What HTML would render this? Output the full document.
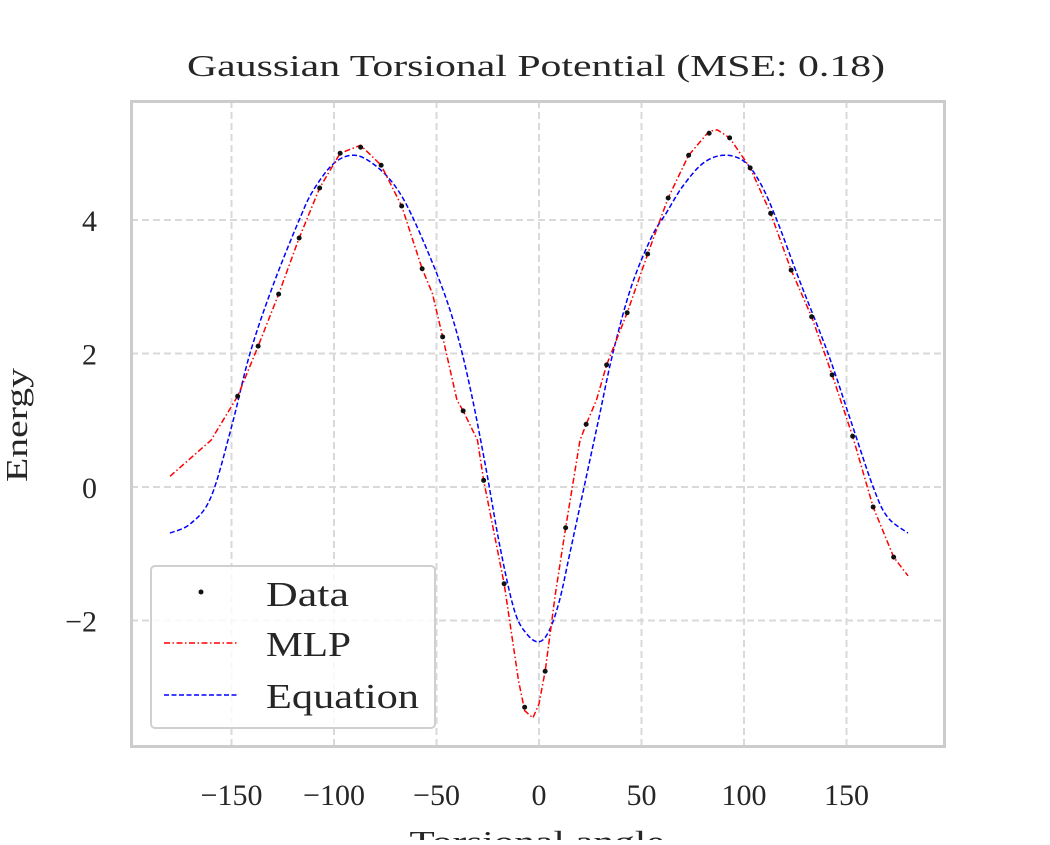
<!DOCTYPE html>
<html><head><meta charset="utf-8"><style>
body{margin:0;background:#fff;}
svg text{font-family:"Liberation Serif",serif;fill:#262626;}
</style></head><body>
<svg id="chart" width="1050" height="840" xmlns="http://www.w3.org/2000/svg">
<text x="536" y="76" font-size="31" textLength="698" lengthAdjust="spacingAndGlyphs" text-anchor="middle">Gaussian Torsional Potential (MSE: 0.18)</text>
<text transform="translate(27,425) rotate(-90)" font-size="31" textLength="114" lengthAdjust="spacingAndGlyphs" text-anchor="middle">Energy</text>
<text x="537" y="852" font-size="31" textLength="255" lengthAdjust="spacingAndGlyphs" text-anchor="middle">Torsional angle</text>
<g id="grid"></g><g id="series"></g><g id="ticks"></g>
<rect x="131.5" y="101.5" width="813" height="645" fill="none" stroke="#cccccc" stroke-width="3"/>
<g>
<rect x="151" y="566" width="284" height="162" rx="4" fill="#fff" fill-opacity="0.8" stroke="#d0d0d0" stroke-width="2"/>
<circle cx="201" cy="592" r="2.5" fill="#111"/>
<text x="266" y="606" font-size="35" textLength="83" lengthAdjust="spacingAndGlyphs">Data</text>
<line x1="164" y1="643" x2="238" y2="643" stroke="#f00" stroke-width="1.5" stroke-dasharray="6,2.5,1.5,2.5"/>
<text x="266" y="656" font-size="35" textLength="85" lengthAdjust="spacingAndGlyphs">MLP</text>
<line x1="164" y1="695" x2="238" y2="695" stroke="#00f" stroke-width="1.5" stroke-dasharray="5,2.5"/>
<text x="266" y="708" font-size="35" textLength="153" lengthAdjust="spacingAndGlyphs">Equation</text>
</g>
</svg>
<script>
const xTicks=[-150,-100,-50,0,50,100,150];
const yTicks=[-2,0,2,4];
const dataX=[-147,-137,-127,-117,-107,-97,-87,-77,-67,-57,-47,-37,-27,-17,-7,3,13,23,33,43,53,63,73,83,93,103,113,123,133,143,153,163,173];
const dataY=[1.36,2.11,2.89,3.73,4.48,5.00,5.09,4.82,4.21,3.27,2.25,1.14,0.10,-1.45,-3.30,-2.76,-0.61,0.94,1.83,2.61,3.49,4.33,4.97,5.30,5.23,4.78,4.10,3.25,2.55,1.68,0.76,-0.30,-1.05];
const mlpX=[-180,-160,-147,-137,-127,-117,-107,-97,-87,-77,-67,-57,-52,-47,-40,-37,-30,-27,-17,-10,-7,-3,0,3,8,13,20,23,28,33,43,53,63,73,83,87,93,103,113,123,133,143,153,163,173,180];
const mlpY=[0.16,0.70,1.36,2.11,2.89,3.73,4.48,5.00,5.12,4.82,4.21,3.27,2.9,2.25,1.3,1.14,0.7,0.10,-1.45,-2.9,-3.35,-3.46,-3.25,-2.76,-1.6,-0.61,0.7,0.94,1.3,1.83,2.61,3.49,4.33,4.97,5.33,5.35,5.23,4.78,4.10,3.25,2.55,1.68,0.76,-0.30,-1.05,-1.33];
const eqX=[-180,-170,-160,-150,-141,-130,-117,-110,-100,-90,-80,-70,-61,-48,-40,-33,-26,-19,-12,-6,0,5,10,15,22,29,36,45,55,62,70,80,90,100,108,116,127,141,152,163,170,180];
const eqY=[-0.69,-0.55,-0.15,0.9,2.0,3.0,4.0,4.45,4.85,4.97,4.82,4.5,4.0,3.05,2.3,1.4,0.3,-0.9,-1.85,-2.2,-2.32,-2.15,-1.7,-1.0,0.0,1.0,2.0,3.0,3.75,4.1,4.5,4.85,4.97,4.88,4.55,4.0,3.1,2.0,1.0,0.0,-0.45,-0.69];
const NS='http://www.w3.org/2000/svg';
const sx=v=>539+v*2.05;
const sy=v=>487-v*66.75;
function mk(t,a,p){const e=document.createElementNS(NS,t);for(const k in a)e.setAttribute(k,a[k]);p.appendChild(e);return e;}
const grid=document.getElementById('grid'),ticks=document.getElementById('ticks'),ser=document.getElementById('series');
xTicks.forEach(v=>{
 const l=mk('line',{x1:sx(v),x2:sx(v),y1:101,y2:746,stroke:'#d9d9d9','stroke-width':2,'stroke-dasharray':'7,4'},grid);
 
 
 const t=mk('text',{x:sx(v),y:805,'font-size':30,'text-anchor':'middle'},ticks);
 t.textContent=v<0?'\u2212'+(-v):String(v);
 
 
});
yTicks.forEach(v=>{
 const l=mk('line',{x1:131,x2:944,y1:sy(v),y2:sy(v),stroke:'#d9d9d9','stroke-width':2,'stroke-dasharray':'7,4'},grid);
 
 
 const t=mk('text',{x:97,y:sy(v)+11,'font-size':30,'text-anchor':'end'},ticks);
 t.textContent=v<0?'\u2212'+(-v):String(v);
 
 
});
const P=eqX.map((x,i)=>[sx(x),sy(eqY[i])]);
let d='M'+P[0][0]+','+P[0][1];
for(let i=0;i<P.length-1;i++){const p0=P[Math.max(0,i-1)],p1=P[i],p2=P[i+1],p3=P[Math.min(P.length-1,i+2)];
 d+=` C${p1[0]+(p2[0]-p0[0])/6},${p1[1]+(p2[1]-p0[1])/6} ${p2[0]-(p3[0]-p1[0])/6},${p2[1]-(p3[1]-p1[1])/6} ${p2[0]},${p2[1]}`;}
const eq=mk('path',{d:d,fill:'none',stroke:'#00f','stroke-width':1.5,'stroke-dasharray':'5,2.5'},ser);


const mlp=mk('polyline',{points:mlpX.map((x,i)=>sx(x)+','+sy(mlpY[i])).join(' '),fill:'none',stroke:'#f00','stroke-width':1.5,'stroke-dasharray':'6,2.5,1.5,2.5','stroke-linejoin':'round'},ser);


dataX.forEach((x,i)=>{
 const c=mk('circle',{cx:sx(x),cy:sy(dataY[i]),r:2.5,fill:'#111'},ser);
 
 
});
</script>
</body></html>
